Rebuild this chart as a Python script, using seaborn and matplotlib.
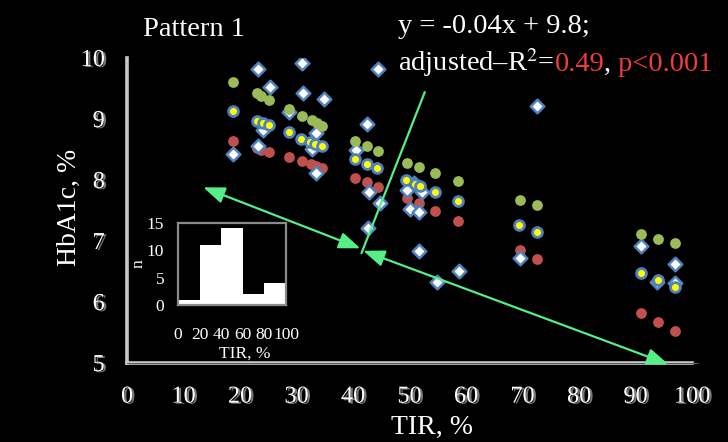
import numpy as np
import pandas as pd
import matplotlib
matplotlib.use("Agg")
import matplotlib.pyplot as plt
import matplotlib.patheffects as pe
import seaborn as sns

# Observed HbA1c against time in range (diamonds)
tir_obs = [18.8, 23.1, 23.2, 24.1, 25.3, 28.7, 31.0, 31.2, 32.7, 33.5, 33.5, 34.9,
           40.5, 42.4, 42.7, 42.9, 44.5, 44.8, 49.5, 50.1, 50.8, 51.7, 51.7, 52.2,
           54.8, 58.8, 69.6, 72.6, 90.9, 93.8, 97.0, 97.0]
hba1c_obs = [8.42, 9.82, 8.55, 8.82, 9.52, 9.12, 9.92, 9.42, 8.51, 8.77, 8.11, 9.32,
             8.50, 8.92, 7.22, 7.81, 9.82, 7.62, 7.84, 7.52, 7.95, 7.48, 6.83, 7.81,
             6.32, 6.51, 6.72, 9.21, 6.92, 6.32, 6.62, 6.31]

# Upper series (green)
tir_upper = [18.7, 23.0, 23.8, 25.1, 28.6, 30.9, 32.7, 33.6, 34.6, 40.4, 42.4, 44.5,
             49.5, 51.6, 54.6, 58.6, 69.6, 72.6, 90.9, 93.9, 97.0]
hba1c_upper = [9.61, 9.42, 9.37, 9.31, 9.16, 9.05, 8.98, 8.94, 8.89, 8.64, 8.56, 8.48,
               8.28, 8.22, 8.11, 7.98, 7.67, 7.59, 7.11, 7.04, 6.96]

# Middle series (yellow)
tir_mid = [18.7, 23.0, 24.0, 25.1, 28.6, 30.8, 32.4, 33.3, 34.6, 40.4, 42.4, 44.3,
           49.4, 51.0, 51.9, 54.6, 58.6, 69.4, 72.6, 90.9, 93.9, 97.0]
hba1c_mid = [9.13, 8.97, 8.94, 8.90, 8.78, 8.68, 8.63, 8.59, 8.55, 8.34, 8.26, 8.19,
             8.00, 7.93, 7.90, 7.81, 7.66, 7.26, 7.14, 6.47, 6.36, 6.25]

# Lower series (red)
tir_lower = [18.7, 23.0, 23.8, 25.1, 28.6, 30.9, 32.5, 33.5, 34.6, 40.4, 42.4, 44.5,
             49.5, 51.6, 54.6, 58.6, 69.6, 72.6, 90.9, 93.9, 97.0]
hba1c_lower = [8.64, 8.53, 8.50, 8.46, 8.37, 8.31, 8.26, 8.23, 8.19, 8.03, 7.96, 7.89,
               7.70, 7.62, 7.50, 7.33, 6.85, 6.70, 5.82, 5.68, 5.52]

# TIR distribution (inset histogram)
hist_edges = [0, 20, 40, 60, 80, 100]
hist_counts = [1, 11, 14, 2, 4]

x_ticks = [0, 10, 20, 30, 40, 50, 60, 70, 80, 90, 100]
y_ticks = [5, 6, 7, 8, 9, 10]

GREEN = "#9BBB59"
RED = "#C0504D"
BLUE = "#4F81BD"
YELLOW = "#FFFF00"
ARROW = "#55EE88"
ANNOT_RED = "#F03C3C"

sns.set_style("dark")
plt.rcParams["font.family"] = ["Liberation Serif", "DejaVu Serif"]
plt.rcParams["mathtext.fontset"] = "stix"

fig = plt.figure(figsize=(7.28, 4.42), dpi=100, facecolor="black")
W, H = 728, 442


def px_rect(x0, y0, x1, y1):
    return [x0 / W, 1 - y1 / H, (x1 - x0) / W, (y1 - y0) / H]


ax = fig.add_axes(px_rect(127, 58, 692, 363))
ax.set_facecolor("black")

df_obs = pd.DataFrame({"TIR": tir_obs, "HbA1c": hba1c_obs})
df_up = pd.DataFrame({"TIR": tir_upper, "HbA1c": hba1c_upper})
df_mid = pd.DataFrame({"TIR": tir_mid, "HbA1c": hba1c_mid})
df_low = pd.DataFrame({"TIR": tir_lower, "HbA1c": hba1c_lower})

sns.scatterplot(data=df_low, x="TIR", y="HbA1c", ax=ax, s=60, color=RED,
                edgecolor=RED, linewidth=0, zorder=3)
sns.scatterplot(data=df_obs, x="TIR", y="HbA1c", ax=ax, marker="D", s=48,
                color="white", edgecolor=BLUE, linewidth=1.8, zorder=4)
sns.scatterplot(data=df_mid, x="TIR", y="HbA1c", ax=ax, s=50, color=YELLOW,
                edgecolor=BLUE, linewidth=2.0, zorder=5)
sns.scatterplot(data=df_up, x="TIR", y="HbA1c", ax=ax, s=60, color=GREEN,
                edgecolor=GREEN, linewidth=0, zorder=6)

ax.set_xlim(0, 100)
ax.set_ylim(5, 10)
ax.set_xticks(x_ticks)
ax.set_yticks(y_ticks)
ax.grid(False)
shadow = [pe.SimplePatchShadow(offset=(1.6, -0.8), shadow_rgbFace="#777777", alpha=1.0),
          pe.Normal()]
ax.tick_params(axis="both", length=0, labelsize=17.5, labelcolor="white")
ax.tick_params(axis="x", pad=17)
ax.tick_params(axis="y", pad=16)
for lab in ax.get_xticklabels() + ax.get_yticklabels():
    lab.set_path_effects(shadow)

for side in ("top", "right"):
    ax.spines[side].set_visible(False)
for side in ("left", "bottom"):
    ax.spines[side].set_visible(True)
    ax.spines[side].set_color("#c8c8c8")
    ax.spines[side].set_linewidth(2.6)
ax.plot([0, 101], [5, 5], color="#5a5a5a", lw=0.7, clip_on=False, zorder=2.6)

ax.set_xlabel("TIR, %", fontsize=20, color="white")
ax.set_ylabel("HbA1c, %", fontsize=20, color="white")
ax.xaxis.set_label_coords(0.54, -0.17)
ax.yaxis.set_label_coords(-0.08, 0.51)

# Arrows and guide line
arrow_kw = dict(arrowstyle="<|-|>,head_length=0.65,head_width=0.25",
                color=ARROW, lw=1.6, mutation_scale=20, shrinkA=0, shrinkB=0)
ax.annotate("", xy=(13.5, 7.88), xytext=(41.3, 6.88),
            arrowprops=arrow_kw, annotation_clip=False, zorder=7)
ax.annotate("", xy=(41.8, 6.84), xytext=(95.8, 4.98),
            arrowprops=arrow_kw, annotation_clip=False, zorder=7)
ax.plot([52.7, 41.5], [9.44, 6.80], color=ARROW, lw=1.6, zorder=7)

# Titles and regression annotation
fig.text(143 / W, 1 - 36 / H, "Pattern 1", fontsize=20.5, color="white",
         ha="left", va="baseline")
fig.text(398 / W, 1 - 33 / H, "y = -0.04x + 9.8;", fontsize=20.5, color="white",
         ha="left", va="baseline")
t1 = fig.text(398 / W, 1 - 71 / H, "adjusted\u2013R$^{2}$=", fontsize=20.5,
              color="white", ha="left", va="baseline")
fig.canvas.draw()
r = fig.canvas.get_renderer()
bb = t1.get_window_extent(r)
t2 = fig.text(bb.x1 / W, 1 - 71 / H, "0.49", fontsize=20.5, color=ANNOT_RED,
              ha="left", va="baseline")
bb2 = t2.get_window_extent(r)
t3 = fig.text(bb2.x1 / W, 1 - 71 / H, ",", fontsize=20.5, color="white",
              ha="left", va="baseline")
bb3 = t3.get_window_extent(r)
fig.text(bb3.x1 / W, 1 - 71 / H, " p<0.001", fontsize=20.5, color=ANNOT_RED,
         ha="left", va="baseline")

# Inset histogram of TIR
axi = fig.add_axes(px_rect(178, 223, 286, 305))
axi.set_facecolor("black")
centers = [(a + b) / 2 for a, b in zip(hist_edges[:-1], hist_edges[1:])]
sns.histplot(x=centers, weights=hist_counts, bins=hist_edges, ax=axi,
             color="white", edgecolor="white", linewidth=0, alpha=1.0)
axi.set_xlim(0, 100)
axi.set_ylim(0, 15)
axi.set_xticks([0, 20, 40, 60, 80, 100])
axi.set_yticks([0, 5, 10, 15])
axi.grid(False)
for side in axi.spines:
    axi.spines[side].set_visible(True)
    axi.spines[side].set_color("#8a8a8a")
    axi.spines[side].set_linewidth(1.6)
axi.tick_params(axis="both", colors="#8a8a8a", labelcolor="white", labelsize=12.5,
                width=1.4, length=4, direction="out")
axi.tick_params(axis="x", pad=12)
axi.tick_params(axis="y", pad=6)
axi.set_xlabel("TIR, %", fontsize=12.5, color="white")
axi.set_ylabel("n", fontsize=12.5, color="white")
axi.xaxis.set_label_coords(0.62, -0.50)
axi.yaxis.set_label_coords(-0.29, 0.5)

fig.savefig("out.png", dpi=100, facecolor="black")
